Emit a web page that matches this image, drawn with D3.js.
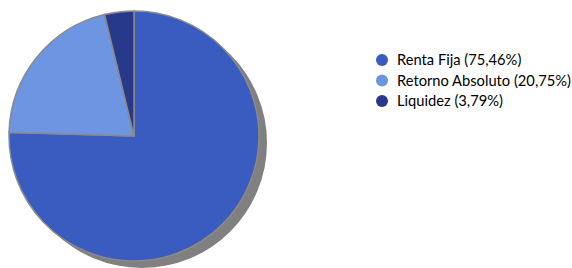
<!DOCTYPE html>
<html><head><meta charset="utf-8">
<script src="https://cdn.jsdelivr.net/npm/d3@7"></script>
<style>body{margin:0;background:#fff}svg{display:block}</style>
</head><body>
<svg id="c" width="572" height="268"></svg>
<script>
const categories = ["Renta Fija", "Retorno Absoluto", "Liquidez"];
const values = [75.46, 20.75, 3.79];
const labels = ["Renta Fija (75,46%)", "Retorno Absoluto (20,75%)", "Liquidez (3,79%)"];
const colors = ["#3A5BC0", "#6D95E2", "#27398A"];

const svg = d3.select("#c");
const cx = 134, cy = 136, r = 125;
const pie = d3.pie().sort(null).value(d => d)(values);
const arc = d3.arc().innerRadius(0).outerRadius(r);

svg.append("circle").attr("cx", cx + 8).attr("cy", cy + 7).attr("r", r).attr("fill", "#808080");
const g = svg.append("g").attr("transform", `translate(${cx},${cy})`);
g.selectAll("path").data(pie).join("path")
  .attr("d", arc).attr("fill", (d, i) => colors[i])
  .attr("stroke", "#8a8a8a").attr("stroke-width", 1.5);

const lg = svg.append("g").attr("transform", "translate(382,60)");
const row = lg.selectAll("g").data(labels).join("g").attr("transform", (d, i) => `translate(0,${i * 20.5})`);
row.append("circle").attr("r", 6).attr("fill", (d, i) => colors[i]);
row.append("text").attr("x", 15).attr("y", 5).text(d => d)
  .attr("font-family", "Lato, 'Open Sans', sans-serif").attr("font-size", 14.7).attr("fill", "#000");
</script>
</body></html>
